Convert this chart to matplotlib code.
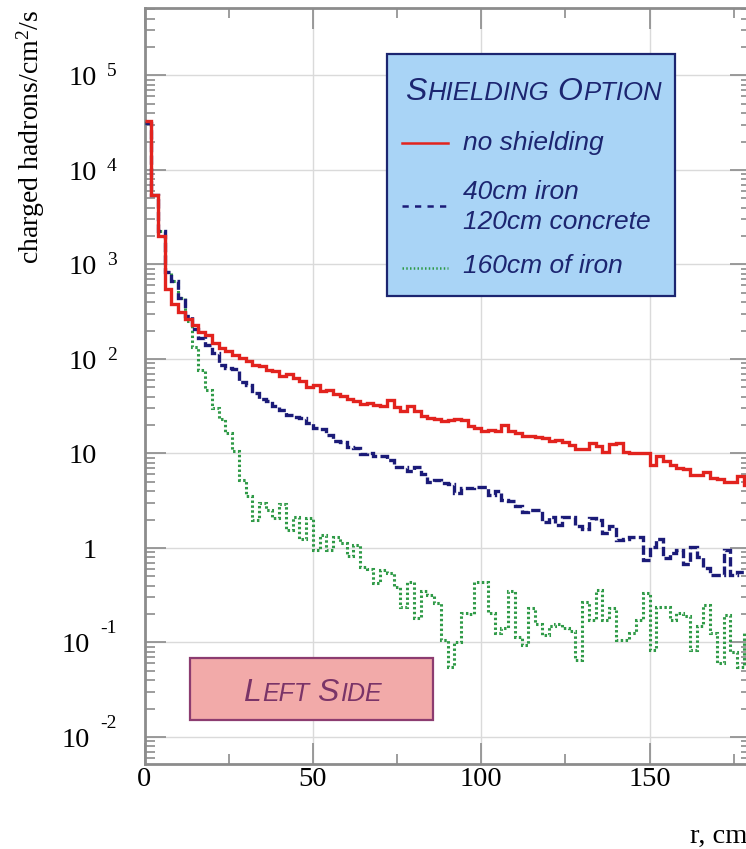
import numpy as np
import matplotlib
matplotlib.use("Agg")
import matplotlib.pyplot as plt
from matplotlib import transforms
from matplotlib.patches import Rectangle
from matplotlib.lines import Line2D

# histogram bins in r (cm)
bin_width = 2
r_edges = np.arange(0, 180 + bin_width, bin_width)

# log10 of flux (charged hadrons/cm2/s), one value per 2 cm bin
log_no_shield = [
    4.52, 3.73, 3.30, 2.74, 2.58, 2.50, 2.42, 2.36, 2.29, 2.25,
    2.17, 2.12, 2.08, 2.04, 2.01, 1.98, 1.94, 1.93, 1.88, 1.87,
    1.82, 1.84, 1.80, 1.77, 1.70, 1.72, 1.66, 1.67, 1.63, 1.61,
    1.58, 1.56, 1.52, 1.53, 1.51, 1.50, 1.57, 1.49, 1.45, 1.50,
    1.45, 1.40, 1.38, 1.37, 1.34, 1.35, 1.36, 1.35, 1.29, 1.27,
    1.24, 1.25, 1.24, 1.30, 1.24, 1.22, 1.19, 1.19, 1.17, 1.16,
    1.13, 1.14, 1.12, 1.09, 1.05, 1.05, 1.11, 1.08, 1.02, 1.10,
    1.11, 1.02, 1.01, 1.01, 1.00, 0.88, 0.97, 0.92, 0.88, 0.85,
    0.84, 0.77, 0.77, 0.80, 0.74, 0.73, 0.70, 0.70, 0.76, 0.67,
]
log_iron_concrete = [
    4.50, 3.74, 3.35, 2.92, 2.82, 2.64, 2.45, 2.32, 2.22, 2.15,
    2.06, 1.94, 1.90, 1.89, 1.76, 1.72, 1.64, 1.58, 1.55, 1.50,
    1.46, 1.41, 1.39, 1.38, 1.32, 1.27, 1.26, 1.20, 1.13, 1.12,
    1.07, 1.06, 0.99, 1.00, 0.97, 0.97, 0.93, 0.86, 0.86, 0.81,
    0.86, 0.78, 0.70, 0.72, 0.69, 0.68, 0.58, 0.63, 0.63, 0.65,
    0.65, 0.56, 0.60, 0.51, 0.50, 0.44, 0.38, 0.40, 0.40, 0.28,
    0.33, 0.24, 0.33, 0.33, 0.23, 0.20, 0.32, 0.30, 0.16, 0.23,
    0.08, 0.09, 0.12, 0.12, -0.13, 0.01, 0.10, -0.11, -0.05, -0.02,
    -0.17, 0.01, -0.10, -0.21, -0.29, -0.29, -0.02, -0.29, -0.25, -0.27,
]
log_iron_only = [
    4.50, 3.74, 3.35, 2.92, 2.82, 2.64, 2.40, 2.13, 1.88, 1.67,
    1.48, 1.36, 1.22, 1.03, 0.72, 0.55, 0.30, 0.48, 0.40, 0.32,
    0.47, 0.19, 0.33, 0.09, 0.32, -0.02, 0.14, -0.02, 0.12, 0.05,
    -0.09, 0.03, -0.20, -0.22, -0.37, -0.23, -0.26, -0.41, -0.62, -0.36,
    -0.74, -0.46, -0.50, -0.58, -0.97, -1.26, -1.00, -0.69, -0.70, -0.36,
    -0.36, -0.69, -0.90, -0.85, -0.46, -0.94, -1.03, -0.64, -0.80, -0.92,
    -0.83, -0.80, -0.85, -0.88, -1.19, -0.57, -0.76, -0.45, -0.76, -0.64,
    -0.97, -0.97, -0.90, -0.76, -0.48, -1.08, -0.62, -0.62, -0.76, -0.69,
    -0.72, -1.08, -0.83, -0.60, -0.90, -1.22, -0.71, -1.10, -1.26, -0.90,
]

labels = ["no shielding", "40cm iron\n120cm concrete", "160cm of iron"]
colors = ["#e2231e", "#1b1b78", "#2f9a47"]

W, H = 746, 849
plt.rcParams['mathtext.fontset'] = 'custom'
plt.rcParams['mathtext.rm'] = 'Liberation Serif'
plt.rcParams['mathtext.it'] = 'Liberation Serif:italic'

def fx(px):
    return px / W

def fy(py):
    return 1 - py / H

fig = plt.figure(figsize=(W / 100, H / 100), dpi=100)
fig.patch.set_facecolor('white')
# axes: left spine at x=144.5 px, top at 8 px, bottom at 764 px, 3.366 px per cm
ax = fig.add_axes([fx(144.5), fy(764), 606 / W, 756 / H])
ax.set_yscale('log')
ax.set_xlim(0, 180)
ax.set_ylim(10 ** -2.286, 10 ** 5.714)

ax.stairs(10 ** np.array(log_iron_only), r_edges, baseline=None,
          color=colors[2], lw=2.2, linestyle=(0, (0.8, 0.8)), zorder=3)
ax.stairs(10 ** np.array(log_iron_concrete), r_edges, baseline=None,
          color=colors[1], lw=2.4, linestyle=(0, (2.8, 1.0)), zorder=4)
ax.stairs(10 ** np.array(log_no_shield), r_edges, baseline=None,
          color=colors[0], lw=2.4, zorder=5)

# axis styling
for s in ax.spines.values():
    s.set_color('#8c8c8c')
    s.set_linewidth(2.0)
ax.set_xticks([0, 50, 100, 150])
ax.set_xticks([25, 75, 125, 175], minor=True)
ax.set_xticklabels(['0', '50', '100', '150'], fontsize=20.5, family='Liberation Serif')
ax.set_yticks(10.0 ** np.arange(-2, 6))
ax.set_yticklabels([])
ax.yaxis.set_minor_formatter(matplotlib.ticker.NullFormatter())
ax.tick_params(which='both', direction='in', top=True, right=True, color='#8c8c8c', width=1.2)
ax.tick_params(which='major', length=15, pad=2)
ax.tick_params(which='minor', length=7.5)
ax.grid(True, which='major', color='#dadada', lw=1.0)
ax.set_axisbelow(True)

# y tick labels: "10" with a raised exponent
lab_tr = transforms.blended_transform_factory(fig.transFigure, ax.transData)
for e in range(-2, 6):
    v = 10.0 ** e
    if e == 0:
        base, sup = '1', ''
    elif e == 1:
        base, sup = '10', ''
    else:
        base, sup = '10', str(e)
    right = 97 if e >= 0 else 90
    off = transforms.ScaledTranslation(0, -10 / 100, fig.dpi_scale_trans)
    ax.text(fx(right), v, base, transform=lab_tr + off, ha='right', va='baseline',
            fontsize=20.5, family='Liberation Serif', clip_on=False)
    if sup:
        rise = -1 if e > 0 else 9
        off2 = transforms.ScaledTranslation(0, rise / 100, fig.dpi_scale_trans)
        ax.text(fx(right + 10), v, sup, transform=lab_tr + off2, ha='left', va='baseline',
                fontsize=14, family='Liberation Serif', clip_on=False)

fig.text(fx(31), fy(137), 'charged hadrons/cm$^2$/s', rotation=90, ha='center', va='center',
         fontsize=20, family='Liberation Serif')
fig.text(fx(690), fy(843), 'r, cm', ha='left', va='baseline', fontsize=20.5,
         family='Liberation Serif')

renderer = fig.canvas.get_renderer()

def small_caps(x, y, words, big, small, color):
    # fake small caps: first letter large, rest smaller capitals
    for i, w in enumerate(words):
        if i > 0:
            x += 0.3 * small * 100 / 72
        for txt, size in ((w[0], big), (w[1:].upper(), small)):
            t = fig.text(fx(x), fy(y), txt, fontsize=size, color=color,
                         family='Liberation Sans', style='italic', ha='left', va='baseline')
            x += t.get_window_extent(renderer).width + 1

# legend box
navy = '#1c2570'
fig.add_artist(Rectangle((fx(387), fy(296)), (675 - 387) / W, (296 - 54) / H,
                         transform=fig.transFigure, facecolor='#a9d4f6', edgecolor=navy, lw=1.6))
small_caps(405, 100, ['Shielding', 'Option'], 23, 18.5, navy)
leg_y = [143, 206, 268]
leg_styles = ['-', (0, (2.5, 2.5)), (0, (0.6, 0.9))]
for yy, c, ls in zip(leg_y, colors, leg_styles):
    fig.add_artist(Line2D([fx(402), fx(448)], [fy(yy), fy(yy)], color=c, lw=1.8,
                          linestyle=ls, transform=fig.transFigure))
for yb, txt in zip([150, 199, 229, 273], ['no shielding', '40cm iron', '120cm concrete', '160cm of iron']):
    fig.text(fx(463), fy(yb), txt, fontsize=19, color=navy, family='Liberation Sans',
             style='italic', ha='left', va='baseline')

# "Left Side" tag
fig.add_artist(Rectangle((fx(190), fy(720)), (433 - 190) / W, (720 - 658) / H,
                         transform=fig.transFigure, facecolor='#f2aaa9', edgecolor='#8c3c70', lw=1.6))
small_caps(243, 701, ['Left', 'Side'], 23, 18, '#7a3468')

fig.savefig('out.png', dpi=100)
